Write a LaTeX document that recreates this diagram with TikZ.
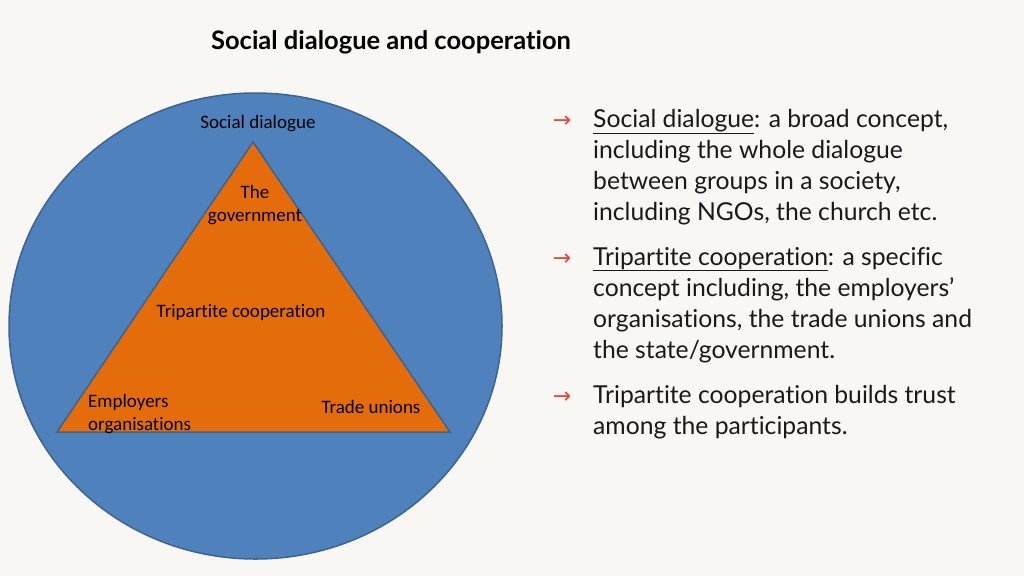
\documentclass[tikz,border=0pt]{standalone}
\usepackage{fontspec}
\setmainfont{Lato}[Ligatures=NoCommon]
\newfontfamily\diafont{Carlito}[Ligatures=NoCommon]
\newfontfamily\symfont{DejaVu Sans}
\usetikzlibrary{positioning}
\definecolor{paper}{HTML}{F8F7F4}
\definecolor{sdblue}{HTML}{4F81BD}
\definecolor{sdedge}{HTML}{3C6491}
\definecolor{tcorange}{HTML}{E46C0A}
\definecolor{arrred}{HTML}{E8453C}

\begin{document}
\begin{tikzpicture}[x=1pt,y=-1pt,
        label/.style={font=\diafont\fontsize{19}{23}\selectfont,inner sep=0pt,align=center},
        point/.style={font=\fontsize{24.7}{31}\selectfont,inner sep=0pt,align=left,anchor=base west,text=black!90},
        bullet/.style={font=\symfont\fontsize{22}{31}\selectfont,inner sep=0pt,anchor=base,text=arrred}]

    \useasboundingbox[fill=paper] (0,0) rectangle (1024,576);

    \node[font=\bfseries\fontsize{25.5}{28}\selectfont,inner sep=0pt] (title) at (391,42) {Social dialogue and cooperation};

    % circle and triangle
    \draw[fill=sdblue,draw=sdedge,line width=1.5pt] (255.5,326) ellipse [x radius=246.5pt, y radius=233pt];
    \coordinate (gov) at (253,142);
    \coordinate (emp) at (57,432);
    \coordinate (uni) at (450,432);
    \draw[fill=tcorange,draw=sdedge,line width=1.5pt,line join=miter] (gov) -- (uni) -- (emp) -- cycle;

    \node[label] (sd) at (258,124) {Social dialogue};
    \node[label] (thegov) at (255,205) {The\\government};
    \node[label] (tc) at (241,312) {Tripartite cooperation};
    \node[label,align=left,anchor=west] (emporg) at (88,414) {Employers\\organisations};
    \node[label] (tu) at (371,407) {Trade unions};

    % bullet points (anchored on their last line)
    \node[point] (pt1) at (593,220) {\underline{Social dialogue}: a broad concept,\\including the whole dialogue\\between groups in a society,\\including NGOs, the church etc.};
    \node[point] (pt2) at (593,358) {\underline{Tripartite cooperation}: a specific\\concept including, the employers’\\organisations, the trade unions and\\the state/government.};
    \node[point] (pt3) at (593,434) {Tripartite cooperation builds trust\\among the participants.};
    \node[bullet] (arr1) at (562,127) {→};
    \node[bullet] (arr2) at (562,265) {→};
    \node[bullet] (arr3) at (562,403) {→};
\end{tikzpicture}
\end{document}
